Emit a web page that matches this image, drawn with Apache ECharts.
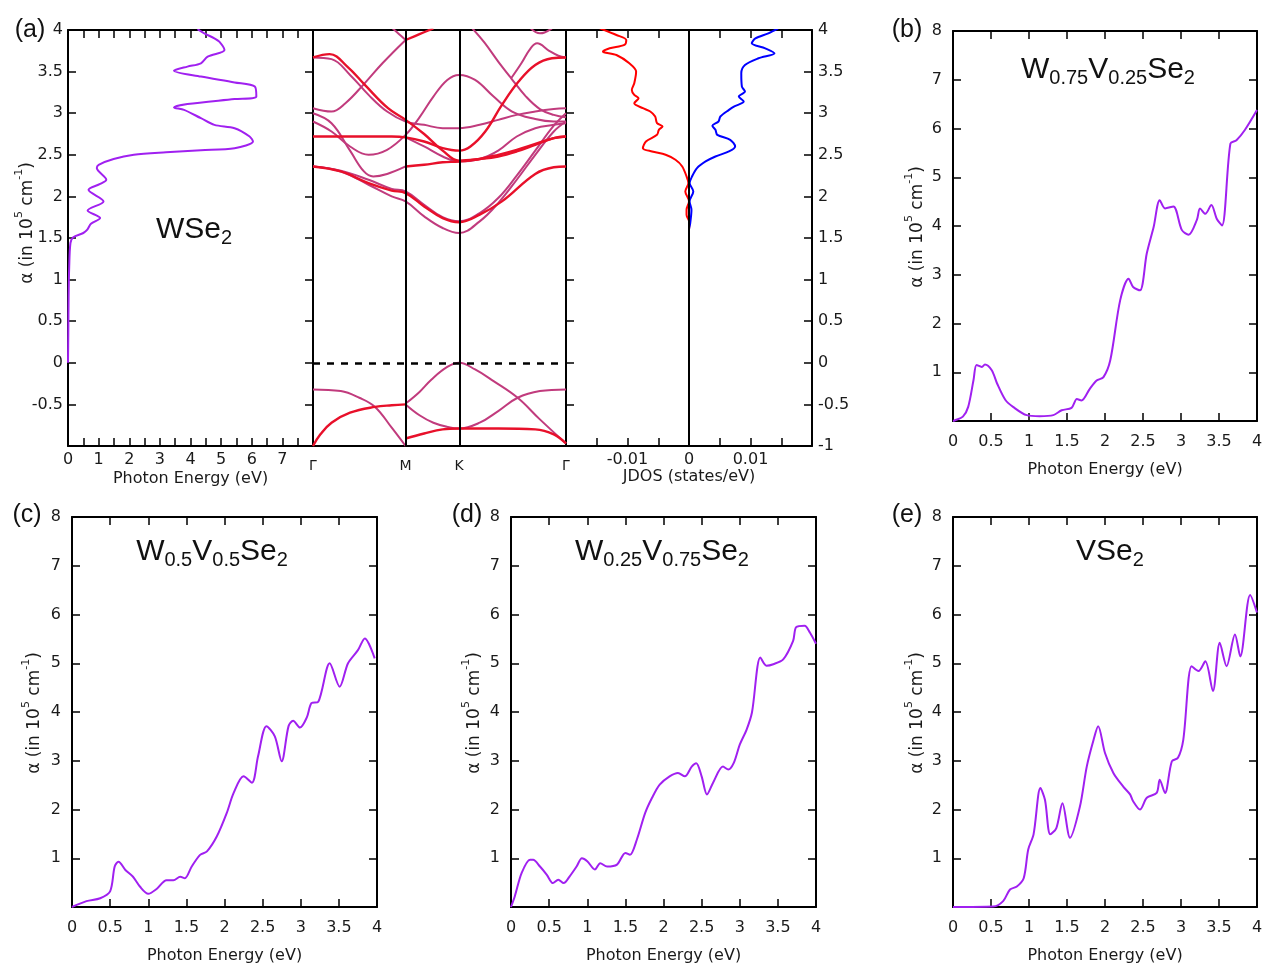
<!DOCTYPE html>
<html><head><meta charset="utf-8">
<script src="https://cdn.jsdelivr.net/npm/echarts@6/dist/echarts.min.js"></script>
<style>html,body{margin:0;padding:0;background:#fff}#c{width:1266px;height:965px}</style>
</head><body><div id="c"></div>
<script>
// ---------- DATA ----------
// (a) WSe2 absorption: [x (Photon Energy axis), y]
const wse2Abs = [[0,0],[0.01,0.36],[0.02,0.8],[0.04,1.16],[0.08,1.44],[0.17,1.51],[0.5,1.56],[0.63,1.6],[0.75,1.67],[1.05,1.74],[0.64,1.83],[1.16,1.94],[0.67,2.08],[1.05,2.15],[1.25,2.2],[0.94,2.34],[1.0,2.38],[1.49,2.45],[2.15,2.5],[3.2,2.53],[4.34,2.555],[5.44,2.58],[6.04,2.66],[5.93,2.72],[5.44,2.82],[4.78,2.86],[4.34,2.94],[3.79,3.04],[3.46,3.07],[3.9,3.11],[5.44,3.17],[6.15,3.2],[6.1,3.32],[5.44,3.37],[4.34,3.44],[3.46,3.51],[3.9,3.56],[4.34,3.6],[4.56,3.68],[5.11,3.76],[4.94,3.86],[4.78,3.9],[4.45,3.96],[4.23,4.01]];

// (a) band structure, k-path positions and labels
const kPoints = [0, 1, 1.577, 2.732];
const kLabels = ['Γ', 'M', 'K', 'Γ'];
// valence bands
const bandV1 = [[0,-0.32],[0.3,-0.34],[0.5,-0.42],[0.67,-0.53],[0.85,-0.78],[1,-1.0]];
const bandV2 = [[0,-1],[0.08,-0.86],[0.2,-0.72],[0.4,-0.6],[0.67,-0.53],[0.85,-0.51],[1,-0.5]];
const bandV3 = [[1,-0.49],[1.15,-0.35],[1.28,-0.2],[1.45,-0.05],[1.577,0],[1.75,-0.08],[1.95,-0.22],[2.21,-0.42],[2.45,-0.68],[2.732,-0.97]];
const bandV4 = [[1,-0.5],[1.15,-0.63],[1.3,-0.72],[1.45,-0.77],[1.577,-0.79],[1.8,-0.72],[2.0,-0.58],[2.21,-0.42],[2.45,-0.34],[2.732,-0.32]];
const bandV5 = [[1,-0.91],[1.2,-0.85],[1.4,-0.8],[1.577,-0.79],[2.0,-0.79],[2.4,-0.8],[2.6,-0.86],[2.732,-0.97]];
// conduction bands
const bandC1 = [[0,2.36],[0.3,2.3],[0.6,2.16],[0.85,2.07],[1,2.04],[1.2,1.88],[1.4,1.74],[1.577,1.69],[1.8,1.78],[2.04,1.94],[2.4,2.27],[2.6,2.35],[2.732,2.36]];
const bandC2 = [[0,2.36],[0.3,2.3],[0.6,2.14],[0.85,2.0],[1,1.94],[1.2,1.76],[1.4,1.62],[1.577,1.56],[1.8,1.7],[2.0,1.92],[2.2,2.2],[2.4,2.5],[2.6,2.78],[2.732,2.9]];
const bandC3 = [[0,2.36],[0.3,2.31],[0.6,2.2],[0.85,2.09],[1,2.06],[1.2,1.9],[1.4,1.75],[1.577,1.7],[1.8,1.8],[2.0,1.98],[2.2,2.25],[2.4,2.55],[2.6,2.85],[2.732,3.0]];
const bandC4 = [[0,2.72],[0.3,2.72],[0.6,2.72],[0.85,2.72],[1,2.71],[1.2,2.66],[1.4,2.58],[1.577,2.55],[1.7,2.6],[1.86,2.78],[2.04,3.1],[2.22,3.38],[2.4,3.58],[2.58,3.66],[2.732,3.67]];
const bandC5 = [[0,3.67],[0.18,3.71],[0.37,3.56],[0.56,3.34],[0.81,3.06],[1,2.92],[1.2,2.75],[1.4,2.55],[1.577,2.43],[1.8,2.45],[2.0,2.48],[2.2,2.54],[2.4,2.62],[2.6,2.7],[2.732,2.72]];
const bandC6 = [[0,2.9],[0.2,2.78],[0.4,2.6],[0.6,2.5],[0.8,2.56],[1,2.74],[1.15,2.95],[1.3,3.2],[1.45,3.4],[1.577,3.46],[1.75,3.4],[1.95,3.2],[2.15,3.02],[2.4,2.93],[2.6,2.9],[2.732,2.9]];
const bandC7 = [[0,3.67],[0.2,3.65],[0.4,3.46],[0.6,3.22],[0.8,3.02],[1,2.9],[1.2,2.86],[1.4,2.82],[1.577,2.82],[1.8,2.86],[2.0,2.92],[2.2,2.98],[2.4,3.02],[2.6,3.05],[2.732,3.06]];
const bandC8 = [[0,3.06],[0.2,3.02],[0.35,3.12],[0.55,3.35],[0.75,3.6],[1,3.88]];
const bandC9 = [[1,3.88],[1.15,3.95],[1.3,4.02]];
const bandC10 = [[0.85,4.03],[0.93,3.95],[1,3.88]];
const bandC11 = [[0,3.0],[0.2,2.88],[0.4,2.55],[0.55,2.3],[0.65,2.24],[0.8,2.27],[1,2.36]];
const bandC12 = [[1,2.36],[1.2,2.38],[1.4,2.41],[1.577,2.42],[1.8,2.45],[2.0,2.5],[2.2,2.56],[2.4,2.63],[2.6,2.7],[2.732,2.72]];
const bandC13 = [[1.72,4.02],[1.85,3.85],[2.0,3.62],[2.14,3.42],[2.3,3.2],[2.45,3.05],[2.6,2.98],[2.732,2.95]];
const bandC14 = [[2.14,3.42],[2.25,3.6],[2.35,3.78],[2.42,3.84],[2.55,3.75],[2.65,3.69],[2.732,3.67]];
const bandC15 = [[2.35,4.02],[2.45,3.96],[2.5,3.97],[2.58,4.02]];
const bandC16 = [[1,2.71],[1.2,2.6],[1.4,2.48],[1.577,2.42],[1.8,2.45],[2.0,2.55],[2.2,2.72],[2.4,2.82],[2.6,2.86],[2.732,2.88]];
const redBands = [bandV2, bandV5, bandC1, bandC4, bandC5, bandC9, bandC12];
const magBands = [bandV1, bandV3, bandV4, bandC2, bandC3, bandC6, bandC7, bandC8, bandC10, bandC11, bandC13, bandC14, bandC15, bandC16];

// (a) JDOS: [JDOS, energy]
const jdosRed = [[0,0.3],[0,1.6],[0.0001,1.68],[-0.0004,1.78],[-0.0004,1.84],[0,1.94],[-0.0006,2.06],[-0.0001,2.16],[-0.0004,2.24],[-0.0011,2.36],[-0.0022,2.44],[-0.0038,2.5],[-0.006,2.54],[-0.0075,2.58],[-0.007,2.66],[-0.0052,2.74],[-0.0049,2.8],[-0.0043,2.84],[-0.0052,2.88],[-0.0055,2.96],[-0.0063,3.02],[-0.0075,3.06],[-0.0089,3.12],[-0.0082,3.18],[-0.0089,3.22],[-0.0093,3.28],[-0.0089,3.36],[-0.0086,3.5],[-0.0097,3.6],[-0.0118,3.7],[-0.014,3.74],[-0.0129,3.78],[-0.0105,3.82],[-0.0102,3.88],[-0.0118,3.94],[-0.0145,4.02]];
const jdosBlue = [[0,0.3],[0,1.6],[0.0002,1.68],[0.0004,1.84],[0.0001,1.94],[0.0007,2.06],[0.0001,2.16],[0.0005,2.24],[0.0013,2.34],[0.0027,2.42],[0.0043,2.48],[0.0065,2.54],[0.0075,2.6],[0.0067,2.68],[0.0046,2.74],[0.0043,2.8],[0.0038,2.85],[0.0048,2.9],[0.0051,2.96],[0.0065,3.04],[0.0073,3.08],[0.0089,3.14],[0.0081,3.2],[0.0091,3.26],[0.0086,3.32],[0.0085,3.48],[0.0091,3.58],[0.0113,3.66],[0.0139,3.72],[0.0124,3.78],[0.0102,3.84],[0.0108,3.9],[0.0129,3.96],[0.0145,4.02]];

// (b)-(e) absorption spectra: [photon energy, alpha]
const absB = [[0,0],[0.02,0.01],[0.13,0.09],[0.2,0.29],[0.27,0.84],[0.31,1.15],[0.38,1.11],[0.42,1.16],[0.51,1.04],[0.58,0.77],[0.69,0.43],[0.79,0.29],[0.97,0.12],[1.14,0.1],[1.32,0.12],[1.43,0.22],[1.56,0.27],[1.63,0.45],[1.69,0.42],[1.8,0.66],[1.89,0.83],[1.98,0.9],[2.07,1.25],[2.2,2.48],[2.31,2.92],[2.37,2.75],[2.46,2.68],[2.55,3.44],[2.64,3.98],[2.72,4.53],[2.79,4.36],[2.9,4.4],[3.01,3.92],[3.1,3.82],[3.21,4.13],[3.25,4.36],[3.32,4.25],[3.4,4.43],[3.47,4.15],[3.54,4.01],[3.65,5.69],[3.73,5.76],[3.84,5.97],[4.0,6.38]];
const absC = [[0,0],[0.19,0.12],[0.37,0.18],[0.5,0.32],[0.56,0.83],[0.61,0.93],[0.7,0.76],[0.8,0.62],[0.89,0.42],[1.0,0.27],[1.11,0.37],[1.24,0.55],[1.33,0.55],[1.42,0.62],[1.48,0.59],[1.57,0.83],[1.68,1.07],[1.77,1.14],[1.9,1.45],[2.03,1.93],[2.12,2.34],[2.25,2.68],[2.36,2.55],[2.44,3.09],[2.55,3.71],[2.66,3.5],[2.75,2.99],[2.84,3.71],[2.9,3.82],[2.99,3.68],[3.08,3.89],[3.14,4.18],[3.23,4.21],[3.38,5.0],[3.51,4.52],[3.62,5.0],[3.75,5.27],[3.84,5.51],[3.97,5.1]];
const absD = [[0,0],[0.05,0.22],[0.14,0.7],[0.25,0.97],[0.29,0.97],[0.38,0.83],[0.47,0.66],[0.55,0.49],[0.62,0.56],[0.69,0.49],[0.77,0.63],[0.86,0.83],[0.93,1.0],[1.0,0.94],[1.1,0.77],[1.17,0.9],[1.26,0.83],[1.39,0.87],[1.5,1.11],[1.56,1.07],[1.65,1.38],[1.76,1.93],[1.85,2.24],[1.95,2.51],[2.08,2.68],[2.19,2.75],[2.28,2.68],[2.37,2.88],[2.43,2.95],[2.5,2.68],[2.57,2.31],[2.65,2.55],[2.78,2.88],[2.85,2.82],[2.92,2.95],[3.0,3.33],[3.09,3.64],[3.16,3.99],[3.27,5.12],[3.35,4.95],[3.44,4.98],[3.57,5.08],[3.7,5.46],[3.74,5.74],[3.85,5.77],[3.92,5.63],[4.0,5.4]];
const absE = [[0,0],[0.53,0.01],[0.66,0.12],[0.75,0.36],[0.84,0.42],[0.93,0.59],[0.99,1.18],[1.06,1.49],[1.15,2.44],[1.21,2.2],[1.28,1.49],[1.36,1.62],[1.44,2.13],[1.54,1.42],[1.67,2.06],[1.76,2.88],[1.85,3.43],[1.91,3.71],[2.0,3.16],[2.11,2.75],[2.24,2.47],[2.33,2.31],[2.37,2.17],[2.46,2.0],[2.55,2.24],[2.68,2.34],[2.72,2.61],[2.79,2.34],[2.88,2.99],[2.96,3.06],[3.03,3.43],[3.14,4.94],[3.23,4.84],[3.32,5.04],[3.42,4.43],[3.51,5.42],[3.6,4.94],[3.71,5.59],[3.78,5.14],[3.91,6.4],[4.0,6.04]];

// ---------- STYLE ----------
const FONT = 'DejaVu Sans';
const PURPLE = '#a020f0', RED = '#e8102a', MAG = '#c13b7d';
const LBL = 16;
const near = (a, b) => Math.abs(a - b) < 1e-6;

function ax(gridIndex, position, min, max, interval, o) {
  o = o || {};
  const a = {
    type: 'value', gridIndex, position, min, max,
    axisLine: {show: true, onZero: false, lineStyle: {color: '#000', width: 2}},
    axisTick: {show: o.ticks !== false, inside: true, length: 8, lineStyle: {color: '#000', width: 1.5}},
    axisLabel: o.fmt ? {show: true, formatter: o.fmt, margin: o.margin == null ? 8 : o.margin, color: '#1a1a1a',
      fontFamily: FONT, fontSize: LBL, showMinLabel: true, showMaxLabel: true} : {show: false},
    splitLine: {show: false}
  };
  if (interval != null) a.interval = interval;
  return a;
}
const nameStyle = {fontFamily: FONT, fontSize: 16, color: '#1a1a1a'};

const grids = [
  {left: 68, top: 30, width: 245, height: 416},
  {left: 313, top: 30, width: 253, height: 416},
  {left: 566, top: 30, width: 246, height: 416},
  {left: 953, top: 31, width: 304, height: 390},
  {left: 72, top: 517, width: 305, height: 390},
  {left: 511, top: 517, width: 305, height: 390},
  {left: 953, top: 517, width: 304, height: 390}
];

const xAxes = [], yAxes = [];
// grid 0: WSe2 absorption
xAxes.push(Object.assign(ax(0, 'bottom', 0, 8, 0.5, {fmt: v => (near(v, Math.round(v)) && v < 7.5) ? String(Math.round(v)) : '', margin: 6}),
  {name: 'Photon Energy (eV)', nameLocation: 'middle', nameGap: 25, nameTextStyle: nameStyle}));
xAxes.push(ax(0, 'top', 0, 8, 0.5));
yAxes.push(ax(0, 'left', -1, 4, 0.5, {fmt: v => v < -0.9 ? '' : String(v), margin: 5}));
yAxes.push(ax(0, 'right', -1, 4, 0.5));
// grid 1: bands
const bx = ax(1, 'bottom', 0, 2.732, null, {ticks: false});
bx.axisLabel = {show: true, customValues: kPoints, formatter: v => { const i = kPoints.findIndex(p => Math.abs(p - v) < 1e-3); return i >= 0 ? kLabels[i] : ''; },
  margin: 13, color: '#1a1a1a', fontFamily: FONT, fontSize: 14, showMinLabel: true, showMaxLabel: true};
xAxes.push(bx);
xAxes.push(ax(1, 'top', 0, 2.732, null, {ticks: false}));
yAxes.push(ax(1, 'left', -1, 4, 0.5, {ticks: false}));
yAxes.push(ax(1, 'right', -1, 4, 0.5, {ticks: false}));
// grid 2: JDOS
xAxes.push(Object.assign(ax(2, 'bottom', -0.02, 0.02, 0.005, {fmt: v => Math.abs(v) < 1e-9 ? '0' : (near(Math.abs(v), 0.01) ? (v < 0 ? '-0.01' : '0.01') : ''), margin: 6}),
  {name: 'JDOS (states/eV)', nameLocation: 'middle', nameGap: 22, nameTextStyle: nameStyle}));
xAxes.push(ax(2, 'top', -0.02, 0.02, 0.005));
yAxes.push(ax(2, 'left', -1, 4, 0.5));
yAxes.push(ax(2, 'right', -1, 4, 0.5, {fmt: v => String(v), margin: 6}));
// grids 3-6: spectra
for (let g = 3; g <= 6; g++) {
  xAxes.push(Object.assign(ax(g, 'bottom', 0, 4, 0.5, {fmt: v => String(v), margin: 13}),
    {name: 'Photon Energy (eV)', nameLocation: 'middle', nameGap: 41, nameTextStyle: nameStyle}));
  xAxes.push(ax(g, 'top', 0, 4, 0.5));
  yAxes.push(ax(g, 'left', 0, 8, 1, {fmt: v => v === 0 ? '' : String(v), margin: 11}));
  yAxes.push(ax(g, 'right', 0, 8, 1));
}

const series = [];
function line(gi, data, color, width, smooth) {
  return {type: 'line', xAxisIndex: 2 * gi, yAxisIndex: 2 * gi, data, showSymbol: false, symbol: 'none',
    smooth: smooth == null ? 0.3 : smooth, lineStyle: {color, width}, animation: false, silent: true};
}
series.push(line(0, wse2Abs, PURPLE, 2));
magBands.forEach(d => series.push(line(1, d, MAG, 2, 0.4)));
redBands.forEach(d => series.push(line(1, d, RED, 2.4, 0.4)));
const ml = line(1, [], '#000', 1);
ml.markLine = {silent: true, symbol: 'none', label: {show: false}, animation: false,
  data: [
    {xAxis: kPoints[1], lineStyle: {color: '#000', width: 2, type: 'solid'}},
    {xAxis: kPoints[2], lineStyle: {color: '#000', width: 2, type: 'solid'}},
    {yAxis: 0, lineStyle: {color: '#000', width: 2.5, type: [7, 7]}}
  ]};
series.push(ml);
series.push(line(2, jdosRed, '#ff0000', 2));
series.push(line(2, jdosBlue, '#0000ff', 2));
const ml2 = line(2, [], '#000', 1);
ml2.markLine = {silent: true, symbol: 'none', label: {show: false}, animation: false,
  data: [{xAxis: 0, lineStyle: {color: '#000', width: 2, type: 'solid'}}]};
series.push(ml2);
series.push(line(3, absB, PURPLE, 2));
series.push(line(4, absC, PURPLE, 2));
series.push(line(5, absD, PURPLE, 2));
series.push(line(6, absE, PURPLE, 2));

// ---------- TEXT ----------
const TF = 'Liberation Sans';
function title(x, y, text) {
  return {type: 'text', x, y, silent: true, style: {text, fontFamily: TF, fontSize: 30, fill: '#111', align: 'center', verticalAlign: 'middle',
    lineHeight: 36, rich: {b: {fontFamily: TF, fontSize: 30, lineHeight: 36}, s: {fontFamily: TF, fontSize: 20, lineHeight: 20, verticalAlign: 'bottom'}}}};
}
function yname(x, y) {
  return {type: 'text', x, y, rotation: Math.PI / 2, silent: true, style: {text: '{b|α (in 10}{p|5}{b| cm}{p|-1}{b|)}', align: 'center', verticalAlign: 'middle',
    fill: '#1a1a1a', rich: {b: {fontFamily: FONT, fontSize: 17, lineHeight: 22, verticalAlign: 'bottom'}, p: {fontFamily: FONT, fontSize: 11, lineHeight: 12, verticalAlign: 'top'}}}};
}
function plabel(x, y, t) {
  return {type: 'text', x, y, silent: true, style: {text: t, fontFamily: TF, fontSize: 25, fill: '#111', align: 'center', verticalAlign: 'middle'}};
}
const graphics = [
  plabel(30, 30, '(a)'), plabel(907, 30, '(b)'), plabel(27, 515, '(c)'), plabel(467, 515, '(d)'), plabel(907, 515, '(e)'),
  title(194, 230, '{b|WSe}{s|2}'),
  title(1108, 70, '{b|W}{s|0.75}{b|V}{s|0.25}{b|Se}{s|2}'),
  title(212, 552, '{b|W}{s|0.5}{b|V}{s|0.5}{b|Se}{s|2}'),
  title(662, 552, '{b|W}{s|0.25}{b|V}{s|0.75}{b|Se}{s|2}'),
  title(1110, 552, '{b|VSe}{s|2}'),
  yname(25, 223), yname(915, 227), yname(32, 713), yname(472, 713), yname(915, 713)
];

const chart = echarts.init(document.getElementById('c'), null, {renderer: 'canvas'});
chart.setOption({
  backgroundColor: '#fff', animation: false,
  grid: grids, xAxis: xAxes, yAxis: yAxes, series, graphic: graphics
});
</script>
</body></html>
